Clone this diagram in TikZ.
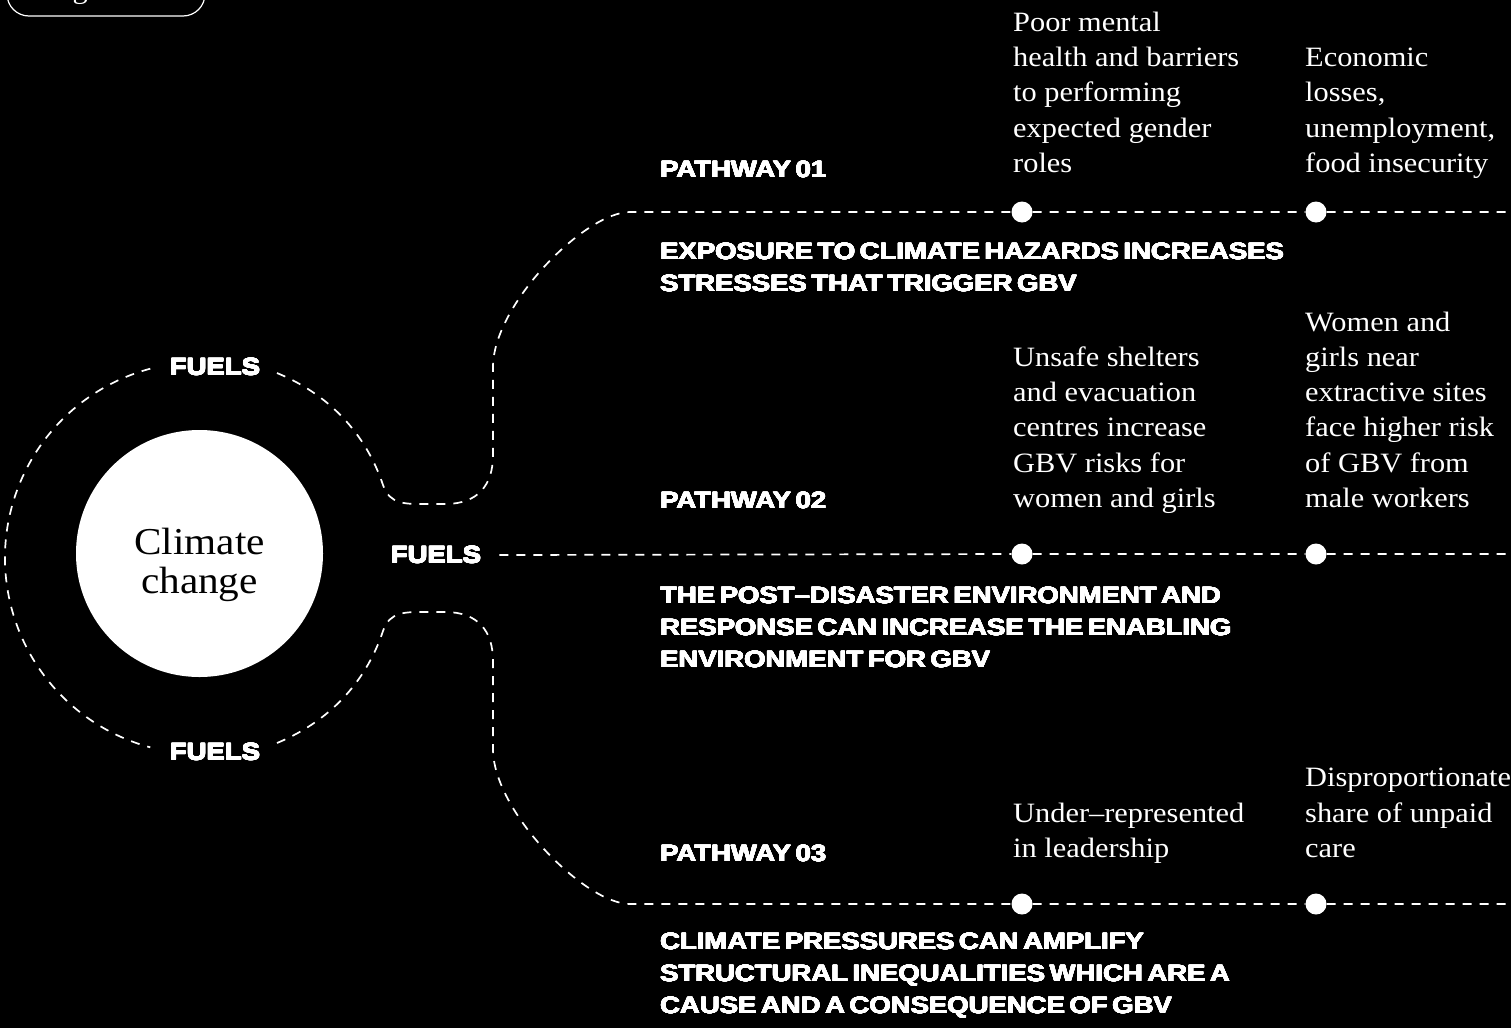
\documentclass[tikz,border=0pt]{standalone}
\usepackage{fontspec}
\setmainfont{Liberation Serif}[FakeStretch=1.085]
\newfontfamily\headfont{Liberation Sans}[UprightFont=* Bold, FakeStretch=1.17, WordSpace=0.6]
\usepackage[copies]{contour}
\contourlength{0.4pt}
\contournumber{16}
\newcommand\heavytext[1]{\contour{white}{#1}}
\usetikzlibrary{positioning}

\begin{document}
\begin{tikzpicture}[x=1pt, y=-1pt]
    \tikzset{
        hub/.style = {circle, fill=white, minimum size=247pt, inner sep=0pt},
        hubtext/.style = {text=black, align=center, inner sep=0pt, font=\fontsize{38}{39}\selectfont},
        fuels/.style = {text=white, inner sep=0pt, font=\headfont\fontsize{23.5}{32}\selectfont},
        pathlabel/.style = {fuels, anchor=base west},
        heading/.style = {fuels, anchor=north west, align=left, execute at begin node=\strut},
        effect/.style = {text=white, inner sep=0pt, align=left, font=\fontsize{28}{35.3}\selectfont,
                         execute at begin node=\strut, execute at end node=\strut},
        station/.style = {circle, fill=white, minimum size=21pt, inner sep=0pt},
        trail/.style = {white, line width=1.7pt, dash pattern=on 9pt off 8pt},
        pill/.style = {draw=white, line width=1.2pt, rounded corners=22pt, minimum width=198pt,
                       minimum height=44pt, text=white, font=\fontsize{28}{34}\selectfont}
    }
    \useasboundingbox (0,0) rectangle (1511,1028);
    \fill [black] (0,0) rectangle (1511,1028);

    \node (tag) [pill] at (106,-6) {\raisebox{10pt}{Figure\phantom{ 12}}};

    % centre
    \node (cc) [hub] at (199.5,553.5) {};
    \node (cctext) [hubtext] at ([yshift=-11pt]cc.center) {Climate\\change};
    \coordinate (ring) at (201,558);

    \node (fuelsTop) [fuels] at (215,367) {\heavytext{FUELS}};
    \node (fuelsMid) [fuels] at (436,555) {\heavytext{FUELS}};
    \node (fuelsBot) [fuels] at (215,752) {\heavytext{FUELS}};

    % stops on the three pathways
    \node (d11) [station] at (1022,212) {};
    \node (d12) [station] at (1316,212) {};
    \node (d21) [station] at (1022,554) {};
    \node (d22) [station] at (1316,554) {};
    \node (d31) [station] at (1022,904) {};
    \node (d32) [station] at (1316,904) {};

    \coordinate (t0) at (277,373);
    \coordinate (t1) at (1511,212);
    \coordinate (m0) at ([xshift=18pt]fuelsMid.east);
    \coordinate (m1) at (1511,554);
    \coordinate (b0) at (277,743);
    \coordinate (b1) at (1511,904);

    \draw [trail] (ring) ++(-105:196) arc[start angle=-105, end angle=-255, radius=196];
    \draw [trail] (t0) .. controls (335,397) and (368,440) .. (383,485)
        .. controls (390,505) and (405,504) .. (428,504) -- (445,504)
        .. controls (478,504) and (493,485) .. (493,455) -- (493,367)
        .. controls (493,305) and (585,212) .. (630,212) -- (d11) -- (d12) -- (t1);
    \draw [trail] (m0) -- (d21) -- (d22) -- (m1);
    \draw [trail] (b0) .. controls (335,719) and (368,676) .. (383,631)
        .. controls (390,611) and (405,612) .. (428,612) -- (445,612)
        .. controls (478,612) and (493,631) .. (493,661) -- (493,749)
        .. controls (493,811) and (585,904) .. (630,904) -- (d31) -- (d32) -- (b1);

    % pathway 01
    \node (p1) [pathlabel] at (660,177.5) {\heavytext{PATHWAY 01}};
    \node (h1) [heading] at (660,242.8) {\heavytext{EXPOSURE TO CLIMATE HAZARDS INCREASES}\\
        \heavytext{STRESSES THAT TRIGGER GBV}};
    \node (e11) [effect, above right=18pt and -9pt of d11.north] {Poor mental\\health and barriers\\to performing\\expected gender\\roles};
    \node (e12) [effect, above right=18pt and -11pt of d12.north] {Economic\\losses,\\unemployment,\\food insecurity};

    % pathway 02
    \node (p2) [pathlabel] at (660,508.5) {\heavytext{PATHWAY 02}};
    \node (h2) [heading] at (660,586.8) {\heavytext{THE POST–DISASTER ENVIRONMENT AND}\\
        \heavytext{RESPONSE CAN INCREASE THE ENABLING}\\\heavytext{ENVIRONMENT FOR GBV}};
    \node (e21) [effect, above right=25pt and -9pt of d21.north] {Unsafe shelters\\and evacuation\\centres increase\\GBV risks for\\women and girls};
    \node (e22) [effect, above right=25pt and -11pt of d22.north] {Women and\\girls near\\extractive sites\\face higher risk\\of GBV from\\male workers};

    % pathway 03
    \node (p3) [pathlabel] at (660,861.5) {\heavytext{PATHWAY 03}};
    \node (h3) [heading] at (660,932.8) {\heavytext{CLIMATE PRESSURES CAN AMPLIFY}\\
        \heavytext{STRUCTURAL INEQUALITIES WHICH ARE A}\\\heavytext{CAUSE AND A CONSEQUENCE OF GBV}};
    \node (e31) [effect, above right=25pt and -9pt of d31.north] {Under–represented\\in leadership};
    \node (e32) [effect, above right=25pt and -11pt of d32.north] {Disproportionate\\share of unpaid\\care};
\end{tikzpicture}
\end{document}
